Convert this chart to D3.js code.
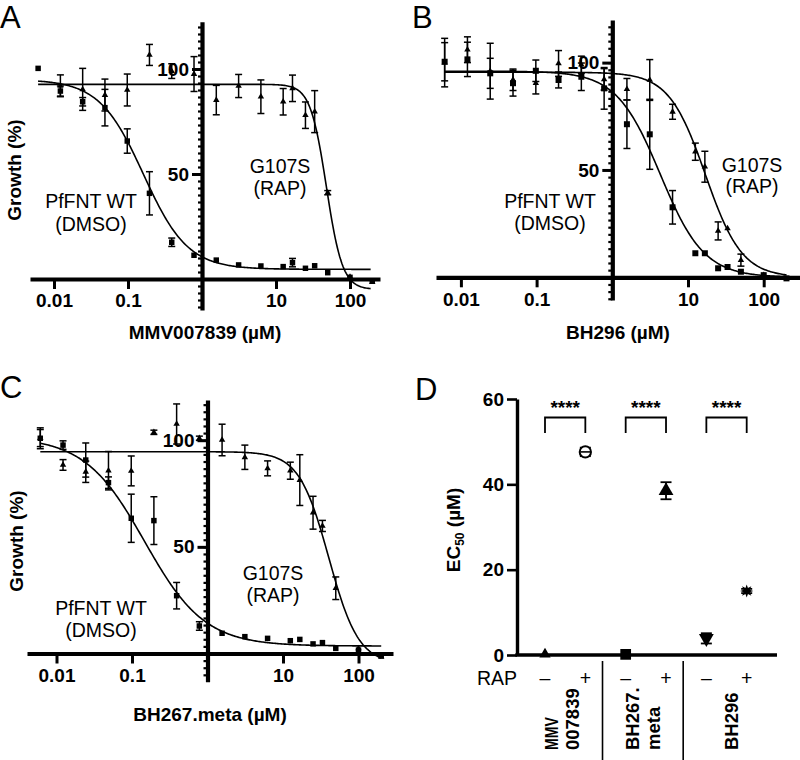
<!DOCTYPE html>
<html><head><meta charset="utf-8">
<script src="https://cdn.jsdelivr.net/npm/d3@7"></script>
<style>
body{margin:0;background:#fff}
svg{display:block}
text{font-family:Arial,"Liberation Sans",Helvetica,sans-serif;fill:#000}
</style>
</head><body>
<svg id="fig" width="800" height="760"></svg>
<script>
// ---------- DATA ----------
const concentrations = [0.0061,0.0122,0.0244,0.0488,0.0977,0.195,0.39,0.78,1.56,3.125,6.25,12.5,16.7,25,33.3,50,100,200];
const xTickValues = [0.01,0.1,10,100];
const xTickLabels = ["0.01","0.1","10","100"];
const yTickValues = [50,100];
const yTickLabels = ["50","100"];

// Panel A: MMV007839
const wtA     = [100.3,89.5,84.4,81.6,65.7,40.8,17.5,11.3,9.0,6.7,6.2,5.9,7.8,5.1,6.3,3.0,0.8,-1.0];
const wtErrA  = [0,2.4,2,8.7,5.8,10.3,2,0,0,0,0,0,2,0,0,0,0,0];
const rapA    = [null,92.0,90.3,87.6,90.0,106.7,99.0,97.6,85.2,91.9,86.8,84.4,90.8,78.0,79.7,41.1,1.0,-1.5];
const rapErrA = [0,5.2,10,7.6,7.6,5,3.5,8.3,7,5.5,8,6.3,6.3,6.3,10,1,0,0];
const fitWtA  = [95,4.6,0.162,1.455];   // top, bottom, EC50, Hill slope
const fitRapA = [92.7,-5,48,4];

// Panel B: BH296
const wtB     = [100.4,101.5,95.0,90.4,96.2,91.9,93.4,88.0,71.3,66.6,32.6,11.2,11.2,4.2,4.8,2.6,1.0,-0.5];
const wtErrB  = [8.9,8,7,6,5,3.7,6.4,9.7,11.3,16.3,7.8,0,0,0,0,0,0,0];
const rapB    = [100,106,96,92,90.4,99.6,99,92.2,87.6,91.9,77.1,58.5,51.5,21.6,22.8,8.0,1.0,null];
const rapErrB = [11.3,6,13,5,5,6,4,5,5,9.5,3.5,4,7.2,4.2,0,2.8,0,0];
const fitWtB  = [96,0,4.3,1.5];
const fitRapB = [95.5,0,17,1.8];

// Panel C: BH267.meta
const wtC     = [100.9,97.7,90.7,80.1,63.4,62.3,27.1,12.9,9.5,7.9,7.1,6.0,6.6,4.5,5.1,2.4,1.6,-1.2];
const wtErrC  = [4.9,2,8,2.7,11.3,11.2,6.2,2,0,0,0,0,0,0,0,0,0,0];
const rapC    = [101,88.4,85.2,85.7,85.6,103.7,107.6,100.9,100.1,92.0,86.8,85.7,81.3,66.0,59.8,30.6,2.4,-1.5];
const rapErrC = [4,2.5,5,9,7,1,9.4,1,7.4,5.7,3.5,4,11.9,7.7,2.6,5.3,0,0];
const fitWtC  = [101.5,3.5,0.147,1.093];
const fitRapC = [94.6,-5,40.5,2.2];

// Panel D: EC50 summary
const ec50Groups  = ["MMV-","MMV+","BH267-","BH267+","BH296-","BH296+"];
const ec50Values  = [0.16,47.6,0.15,38.5,3.9,15.0];
const ec50Errors  = [0,1.0,0,2.0,1.2,0.5];
const rapSigns    = ["\u2013","+","\u2013","+","\u2013","+"];
const compoundNames = [["MMV","007839"],["BH267.","meta"],["BH296"]];
const sigLabels   = ["****","****","****"];
const ec50Ticks   = [0,20,40,60];

// ---------- DRAWING ----------
const svg = d3.select("#fig");
const FONT_TICK = 19, FONT_NOTE = 19.5;

function hill(p, x){ return p[1] + (p[0]-p[1])/(1+Math.pow(x/p[2], p[3])); }

function drawDose(L, d){
  const g = svg.append("g");
  const lx = v => Math.pow(10, v);
  const x = d3.scaleLog()
    .domain([lx((L.xL-L.x1)/L.dec), lx((L.xR-L.x1)/L.dec)])
    .range([L.xL, L.xR]);
  const y = d3.scaleLinear()
    .domain([L.yBotV, L.yTopV])
    .range([L.y0 - L.yBotV*L.unit, L.y0 - L.yTopV*L.unit]);

  // fitted curves
  const lo = Math.log10(L.curveFrom), hi = Math.log10(L.curveTo);
  const xs = d3.range(0, 301).map(i => Math.pow(10, lo + (hi-lo)*i/300));
  const line = d3.line().x(v => x(v[0])).y(v => y(v[1]));
  [d.fitWt, d.fitRap].forEach(p => {
    g.append("path").attr("d", line(xs.map(v => [v, hill(p, v)])))
      .attr("fill","none").attr("stroke","#000").attr("stroke-width",1.6);
  });

  // error bars + markers
  const sq = d3.symbol(d3.symbolSquare, L.sqSize)();
  const tri = d3.symbol(d3.symbolTriangle, L.triSize)();
  [[d.rap, d.rapErr, tri],[d.wt, d.wtErr, sq]].forEach(([vals, errs, shape]) => {
    d.conc.forEach((c, i) => {
      const v = vals[i]; if (v == null) return;
      const e = errs[i] || 0;
      if (e > 0){
        const cx = x(c);
        g.append("line").attr("x1",cx).attr("x2",cx).attr("y1",y(v-e)).attr("y2",y(v+e))
          .attr("stroke","#000").attr("stroke-width",1.5);
        [v-e, v+e].forEach(w => g.append("line").attr("x1",cx-3.5).attr("x2",cx+3.5)
          .attr("y1",y(w)).attr("y2",y(w)).attr("stroke","#000").attr("stroke-width",1.5));
      }
      g.append("path").attr("d", shape).attr("transform",`translate(${x(c)},${y(v)})`).attr("fill","#000");
    });
  });

  // x axis at y=0
  const xa = g.append("g").attr("transform",`translate(0,${y(0)})`)
    .call(d3.axisBottom(x).tickValues(xTickValues).tickFormat((t,i)=>xTickLabels[i]).tickSize(10).tickPadding(5).tickSizeOuter(0));
  xa.select(".domain").attr("stroke-width",4.2);
  xa.selectAll(".tick line").attr("stroke-width",3);
  xa.selectAll(".tick text").attr("font-size",FONT_TICK).attr("font-weight","bold").attr("font-family",null);

  // y axis at x=1
  const minor = d3.range(-6, 40).map(i => i*10/3).filter(v => v > L.yBotV && v < L.yTopV);
  const ym = g.append("g").attr("transform",`translate(${x(1)},0)`)
    .call(d3.axisLeft(y).tickValues(minor).tickFormat("").tickSize(4).tickSizeOuter(0));
  ym.select(".domain").remove();
  ym.selectAll(".tick line").attr("stroke-width",2.2);
  const ya = g.append("g").attr("transform",`translate(${x(1)},0)`)
    .call(d3.axisLeft(y).tickValues(yTickValues).tickFormat((t,i)=>yTickLabels[i]).tickSize(10).tickPadding(3).tickSizeOuter(0));
  ya.select(".domain").attr("stroke-width",4.2);
  ya.selectAll(".tick line").attr("stroke-width",3);
  ya.selectAll(".tick text").attr("font-size",FONT_TICK).attr("font-weight","bold").attr("font-family",null);

  // titles & notes
  g.append("text").attr("x",(L.xL+L.xR)/2).attr("y",L.titleY).attr("text-anchor","middle")
    .attr("font-size",FONT_TICK).attr("font-weight","bold").text(L.title);
  if (L.ylabel){
    g.append("text").attr("transform",`translate(${L.ylabelX},${L.ylabelY}) rotate(-90)`)
      .attr("text-anchor","middle").attr("font-size",FONT_TICK).attr("font-weight","bold").text("Growth (%)");
  }
  L.notes.forEach(n => {
    g.append("text").attr("x",n[0]).attr("y",n[1]).attr("text-anchor","middle")
      .attr("font-size",FONT_NOTE).text(n[2]);
  });
  svg.append("text").attr("x",L.letter[0]).attr("y",L.letter[1]).attr("font-size",31).text(L.letter[2]);
}

drawDose({x1:202, dec:74, y0:279, unit:2.1, xL:30, xR:380, yTopV:122.5, yBotV:-14.8,
  curveFrom:0.0061, curveTo:190, sqSize:30, triSize:18,
  title:"MMV007839 (\u00b5M)", titleY:339, ylabel:true, ylabelX:21, ylabelY:170,
  notes:[[91,208,"PfFNT WT"],[91,231,"(DMSO)"],[280,173,"G107S"],[280,195,"(RAP)"]],
  letter:[0,28,"A"]},
  {conc:concentrations, wt:wtA, wtErr:wtErrA, rap:rapA, rapErr:rapErrA, fitWt:fitWtA, fitRap:fitRapA});

drawDose({x1:612.3, dec:75.7, y0:277.3, unit:2.147, xL:436, xR:800, yTopV:119.8, yBotV:-10.6,
  curveFrom:0.0061, curveTo:200, sqSize:36, triSize:18,
  title:"BH296 (\u00b5M)", titleY:339, ylabel:false,
  notes:[[550,208,"PfFNT WT"],[550,230,"(DMSO)"],[752,172,"G107S"],[752,193,"(RAP)"]],
  letter:[412,28,"B"]},
  {conc:concentrations, wt:wtB, wtErr:wtErrB, rap:rapB, rapErr:rapErrB, fitWt:fitWtB, fitRap:fitRapB});

drawDose({x1:207.5, dec:75.5, y0:653.5, unit:2.133, xL:27, xR:393, yTopV:118.8, yBotV:-13.2,
  curveFrom:0.0061, curveTo:200, sqSize:30, triSize:18,
  title:"BH267.meta (\u00b5M)", titleY:721, ylabel:true, ylabelX:23, ylabelY:541,
  notes:[[101,615,"PfFNT WT"],[101,637,"(DMSO)"],[273,580,"G107S"],[273,602,"(RAP)"]],
  letter:[0,398,"C"]},
  {conc:concentrations, wt:wtC, wtErr:wtErrC, rap:rapC, rapErr:rapErrC, fitWt:fitWtC, fitRap:fitRapC});

// ---------- Panel D ----------
(function(){
  const g = svg.append("g");
  const x = d3.scalePoint().domain(ec50Groups).range([545, 746.7]);
  const y = d3.scaleLinear().domain([0,60]).range([655, 399]);
  const axisX0 = 517, axisX1 = 777;

  // y axis
  const ya = g.append("g").attr("transform",`translate(${axisX0},0)`)
    .call(d3.axisLeft(y).tickValues(ec50Ticks).tickSize(10).tickPadding(3).tickSizeOuter(0));
  ya.select(".domain").attr("stroke-width",3.4);
  ya.selectAll(".tick line").attr("stroke-width",2.6);
  ya.selectAll(".tick text").attr("font-size",FONT_TICK).attr("font-weight","bold").attr("font-family",null);
  // x axis
  g.append("line").attr("x1",axisX0-1.7).attr("x2",axisX1).attr("y1",y(0)).attr("y2",y(0))
    .attr("stroke","#000").attr("stroke-width",3.4);

  // y title
  const yt = g.append("text").attr("transform","translate(460,530) rotate(-90)")
    .attr("text-anchor","middle").attr("font-size",FONT_TICK).attr("font-weight","bold");
  yt.append("tspan").text("EC");
  yt.append("tspan").attr("font-size",12).attr("dy",4).text("50");
  yt.append("tspan").attr("dy",-4).text(" (\u00b5M)");

  // significance brackets
  sigLabels.forEach((s, k) => {
    const a = x(ec50Groups[2*k]), b = x(ec50Groups[2*k+1]);
    g.append("path").attr("d",`M${a},${433}V${417.5}H${b}V${433}`)
      .attr("fill","none").attr("stroke","#000").attr("stroke-width",1.8);
    g.append("text").attr("x",(a+b)/2).attr("y",414).attr("text-anchor","middle")
      .attr("font-size",19).attr("font-weight","bold").text(s);
  });

  // points
  const burst = {draw(ctx, size){
    const r = Math.sqrt(size)/1.6, r2 = r*0.5;
    for (let i=0;i<16;i++){
      const a = i*Math.PI/8, rr = i%2 ? r2 : r;
      const px = rr*Math.sin(a), py = -rr*Math.cos(a);
      i ? ctx.lineTo(px,py) : ctx.moveTo(px,py);
    }
    ctx.closePath();
  }};
  const styles = [
    {type:d3.symbolTriangle, size:55, rot:0, fill:"#000"},
    {type:d3.symbolCircle, size:100, rot:0, fill:"#fff", stroke:true},
    {type:d3.symbolSquare, size:115, rot:0, fill:"#000"},
    {type:d3.symbolTriangle, size:95, rot:0, fill:"#000"},
    {type:d3.symbolTriangle, size:95, rot:180, fill:"#000"},
    {type:burst, size:110, rot:0, fill:"#000"}
  ];
  ec50Groups.forEach((cat, i) => {
    const cx = x(cat), v = ec50Values[i], e = ec50Errors[i];
    if (e > 0){
      g.append("line").attr("x1",cx).attr("x2",cx).attr("y1",y(v-e)).attr("y2",y(v+e))
        .attr("stroke","#000").attr("stroke-width",1.8);
      [v-e, v+e].forEach(w => g.append("line").attr("x1",cx-5.5).attr("x2",cx+5.5)
        .attr("y1",y(w)).attr("y2",y(w)).attr("stroke","#000").attr("stroke-width",1.8));
    }
    const st = styles[i];
    const p = g.append("path").attr("d", d3.symbol(st.type, st.size)())
      .attr("transform",`translate(${cx},${y(v)}) rotate(${st.rot})`).attr("fill",st.fill);
    if (st.stroke){
      p.attr("stroke","#000").attr("stroke-width",2);
      g.append("line").attr("x1",cx-5).attr("x2",cx+5).attr("y1",y(v)).attr("y2",y(v))
        .attr("stroke","#000").attr("stroke-width",1.6);
    }
  });

  // RAP row
  g.append("text").attr("x",axisX0).attr("y",685).attr("text-anchor","end").attr("font-size",FONT_NOTE).text("RAP");
  ec50Groups.forEach((cat, i) => {
    g.append("text").attr("x",x(cat)).attr("y",685).attr("text-anchor","middle")
      .attr("font-size",FONT_NOTE).text(rapSigns[i]);
  });
  // separators
  [1,3].forEach(i => {
    const sx = (x(ec50Groups[i]) + x(ec50Groups[i+1]))/2 - 3;
    g.append("line").attr("x1",sx).attr("x2",sx).attr("y1",661).attr("y2",760)
      .attr("stroke","#000").attr("stroke-width",1.6);
  });
  // compound names
  compoundNames.forEach((lines, k) => {
    const c = (x(ec50Groups[2*k]) + x(ec50Groups[2*k+1]))/2;
    const offs = lines.length === 2 ? [-7, 14] : [11.5];
    lines.forEach((t, j) => {
      const tx = g.append("text").attr("transform",`translate(${c+offs[j]},750) rotate(-90)`)
        .attr("font-size",18.5).attr("font-weight","bold").text(t);
      if (t === "MMV") tx.attr("textLength",33).attr("lengthAdjust","spacingAndGlyphs");
    });
  });
  svg.append("text").attr("x",415).attr("y",400).attr("font-size",31).text("D");
})();
</script>
</body></html>
